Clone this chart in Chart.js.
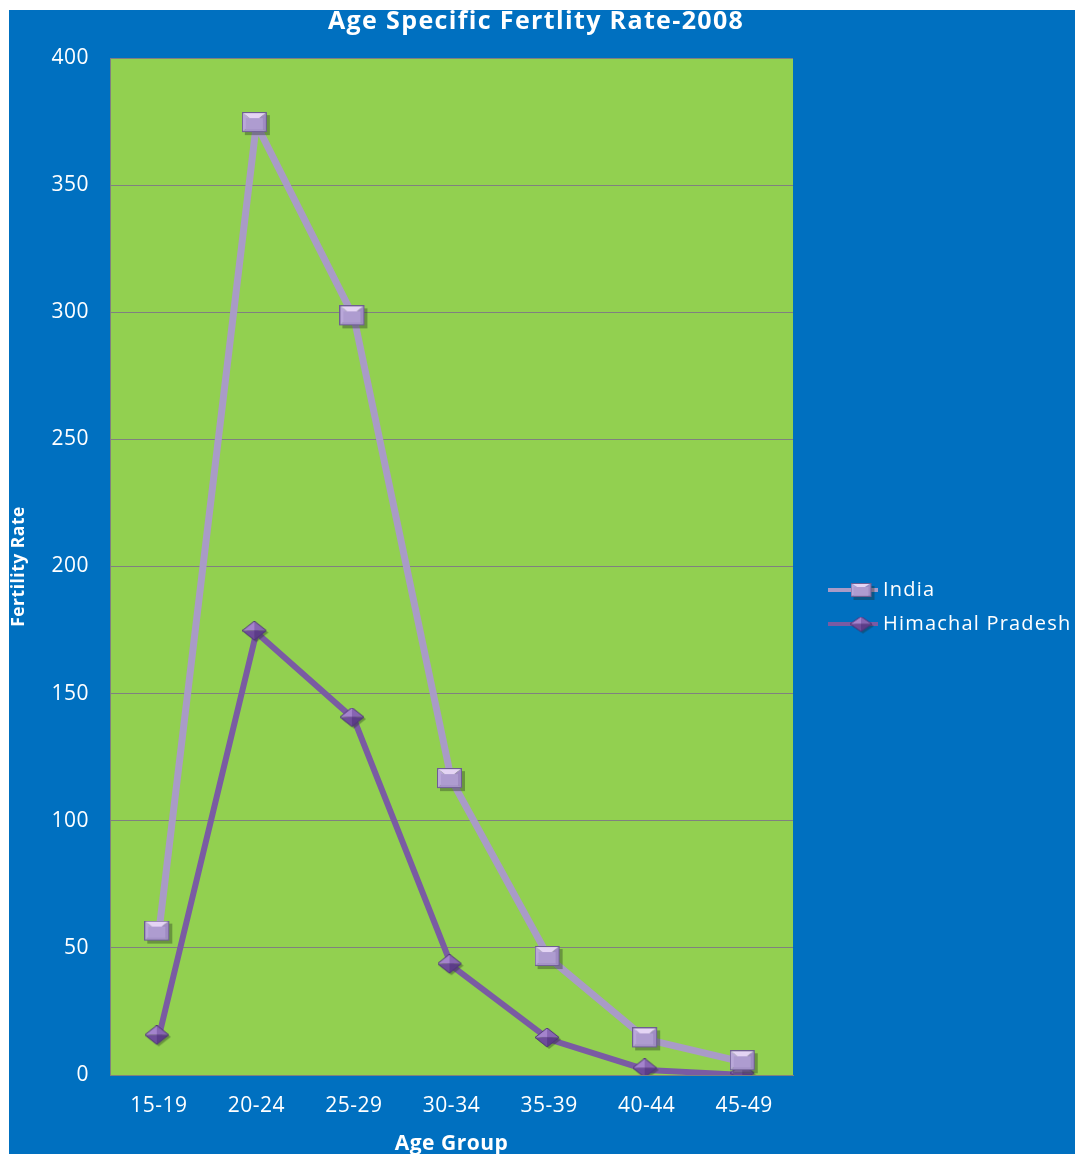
<!DOCTYPE html>
<html><head><meta charset="utf-8">
<script src="https://cdn.jsdelivr.net/npm/chart.js@4"></script>
<style>html,body{margin:0;padding:0;background:#fff}#wrap{width:1078px;height:1154px;position:relative}</style>
</head><body><div id="wrap"><canvas id="c" width="1078" height="1154"></canvas></div>
<script>
const chartTitle = 'Age Specific Fertlity Rate-2008';
const xAxisTitle = 'Age Group';
const yAxisTitle = 'Fertility Rate';
const ageGroups = ['15-19','20-24','25-29','30-34','35-39','40-44','45-49'];
const indiaValues = [56, 374, 298, 116, 46, 14, 5];
const himachalValues = [15, 174, 140, 43, 14, 2, 0];
const seriesNames = ['India', 'Himachal Pradesh'];
const yMin = 0, yMax = 400, yStep = 50;

function tri(g, pts, color) {
  g.beginPath(); g.moveTo(pts[0][0], pts[0][1]);
  for (let i = 1; i < pts.length; i++) g.lineTo(pts[i][0], pts[i][1]);
  g.closePath(); g.fillStyle = color; g.fill();
}
function makeSquare(w, h) {
  const c = document.createElement('canvas');
  c.width = w + 4; c.height = h + 4;
  const g = c.getContext('2d');
  g.fillStyle = 'rgba(30,40,30,0.35)'; g.fillRect(3, 3, w, h);
  const cx = w / 2, cy = h / 2;
  tri(g, [[0,0],[w,0],[cx,cy]], '#E4D4F4');
  tri(g, [[0,0],[0,h],[cx,cy]], '#B9A7D9');
  tri(g, [[w,0],[w,h],[cx,cy]], '#9F8BC3');
  tri(g, [[0,h],[w,h],[cx,cy]], '#A593C8');
  g.fillStyle = '#AE9CD0'; g.fillRect(Math.round(w*0.16), Math.round(h*0.3), w - 2*Math.round(w*0.16), h - Math.round(h*0.3) - Math.round(h*0.15));
  g.strokeStyle = '#6E5E92'; g.lineWidth = 1; g.strokeRect(0.5, 0.5, w - 1, h - 1);
  return c;
}
function makeDiamond(w, h) {
  const c = document.createElement('canvas');
  c.width = w + 4; c.height = h + 4;
  const g = c.getContext('2d');
  const cx = w / 2, cy = h / 2;
  tri(g, [[cx+2,2],[w+2,cy+2],[cx+2,h+2],[2,cy+2]], 'rgba(30,40,30,0.35)');
  tri(g, [[cx,0],[0,cy],[cx,cy]], '#A483CC');
  tri(g, [[cx,0],[w,cy],[cx,cy]], '#8765B2');
  tri(g, [[0,cy],[cx,h],[cx,cy]], '#6E4C9A');
  tri(g, [[w,cy],[cx,h],[cx,cy]], '#5C3C88');
  g.beginPath(); g.moveTo(cx,0); g.lineTo(w,cy); g.lineTo(cx,h); g.lineTo(0,cy); g.closePath();
  g.strokeStyle = '#4E3278'; g.lineWidth = 1; g.stroke();
  return c;
}
const squareImg = makeSquare(25, 20);
const diamondImg = makeDiamond(24, 19);
const legendImgs = [makeSquare(21, 14), makeDiamond(22, 15)];

function fitText(ctx, text, width) {
  ctx.letterSpacing = '0px';
  const w = ctx.measureText(text).width;
  ctx.letterSpacing = Math.max(0, (width - w) / (text.length - 1)).toFixed(2) + 'px';
}

const bgPlugin = {
  id: 'bg',
  beforeDraw(chart) {
    const ctx = chart.ctx, a = chart.chartArea;
    ctx.save();
    ctx.fillStyle = '#FFFFFF'; ctx.fillRect(0, 0, chart.width, chart.height);
    ctx.fillStyle = '#0070C0'; ctx.fillRect(9, 10, 1066, chart.height - 10);
    ctx.fillStyle = '#92D050'; ctx.fillRect(a.left, a.top, a.right - a.left, a.bottom - a.top);
    ctx.restore();
    ctx.letterSpacing = '0.5px';
  },
  afterDraw(chart) {
    const ctx = chart.ctx;
    ctx.save();
    ctx.fillStyle = '#FFFFFF';
    ctx.font = 'bold 25px "Open Sans"';
    ctx.textAlign = 'left'; ctx.textBaseline = 'alphabetic';
    fitText(ctx, chartTitle, 415);
    ctx.fillText(chartTitle, 328, 29);
    // legend
    const legendX = 828, legendY = [590, 624];
    chart.data.datasets.forEach((ds, i) => {
      const y = legendY[i];
      ctx.strokeStyle = ds.borderColor; ctx.lineWidth = 4;
      ctx.beginPath(); ctx.moveTo(legendX, y); ctx.lineTo(legendX + 50, y); ctx.stroke();
      const im = legendImgs[i];
      ctx.drawImage(im, 861 - (im.width - 4) / 2, y - (im.height - 4) / 2);
      ctx.fillStyle = '#FFFFFF'; ctx.font = '20px "Open Sans"';
      ctx.textAlign = 'left'; ctx.textBaseline = 'middle';
      ctx.letterSpacing = '1.2px';
      ctx.fillText(ds.label, legendX + 55, y);
    });
    ctx.restore();
  }
};

new Chart(document.getElementById('c'), {
  type: 'line',
  data: {
    labels: ageGroups,
    datasets: [
      { label: seriesNames[0], data: indiaValues, borderColor: '#A99BC7', borderWidth: 7,
        pointStyle: squareImg, pointRadius: 12, tension: 0 },
      { label: seriesNames[1], data: himachalValues, borderColor: '#7A5BA3', borderWidth: 6,
        pointStyle: diamondImg, pointRadius: 12, tension: 0 }
    ]
  },
  options: {
    responsive: false, animation: false, devicePixelRatio: 1,
    layout: { padding: { left: 0, right: 285, top: 58, bottom: 0 } },
    plugins: { legend: { display: false }, title: { display: false }, tooltip: { enabled: false } },
    scales: {
      x: {
        offset: true,
        grid: { display: false, drawTicks: false },
        border: { display: true, color: '#808080', width: 1 },
        ticks: { color: '#FFFFFF', font: { family: 'Open Sans', size: 21 }, padding: 18, maxRotation: 0 },
        title: { display: true, text: xAxisTitle, color: '#FFFFFF', font: { family: 'Open Sans', size: 21, weight: 'bold' }, padding: { top: 0, bottom: -3 } },
        afterFit(s) { s.height = 79; }
      },
      y: {
        min: yMin, max: yMax,
        grid: { color: '#808080', lineWidth: 1, drawTicks: false },
        border: { display: true, color: '#808080', width: 1 },
        ticks: { stepSize: yStep, color: '#FFFFFF', font: { family: 'Open Sans', size: 21 }, padding: 21 },
        title: { display: true, text: yAxisTitle, color: '#FFFFFF', font: { family: 'Open Sans', size: 17.5, weight: 'bold' }, padding: { top: 9, bottom: 0 } },
        afterFit(s) { s.width = 110; }
      }
    }
  },
  plugins: [bgPlugin]
});
</script></body></html>
